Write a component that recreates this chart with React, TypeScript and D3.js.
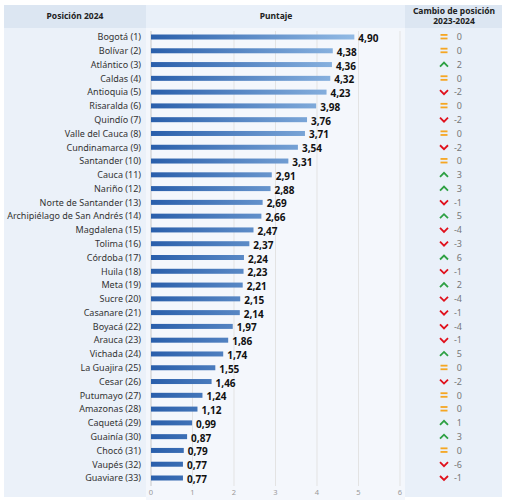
import React from 'react';
import * as d3 from 'd3';

const departments = [
  'Bogotá', 'Bolívar', 'Atlántico', 'Caldas', 'Antioquia', 'Risaralda', 'Quindío',
  'Valle del Cauca', 'Cundinamarca', 'Santander', 'Cauca', 'Nariño', 'Norte de Santander',
  'Archipiélago de San Andrés', 'Magdalena', 'Tolima', 'Córdoba', 'Huila', 'Meta', 'Sucre',
  'Casanare', 'Boyacá', 'Arauca', 'Vichada', 'La Guajira', 'Cesar', 'Putumayo', 'Amazonas',
  'Caquetá', 'Guainía', 'Chocó', 'Vaupés', 'Guaviare',
];

const scores = [
  4.90, 4.38, 4.36, 4.32, 4.23, 3.98, 3.76, 3.71, 3.54, 3.31, 2.91, 2.88, 2.69, 2.66, 2.47,
  2.37, 2.24, 2.23, 2.21, 2.15, 2.14, 1.97, 1.86, 1.74, 1.55, 1.46, 1.24, 1.12, 0.99, 0.87,
  0.79, 0.77, 0.77,
];

const changes = [
  0, 0, 2, 0, -2, 0, -2, 0, -2, 0, 3, 3, -1, 5, -4, -3, 6, -1, 2, -4, -1, -4, -1, 5, 0, -2,
  0, 0, 1, 3, 0, -6, -1,
];

const xTicks = [0, 1, 2, 3, 4, 5, 6];

const FONT = '"Noto Sans", sans-serif';
const fmt = (v: number) => v.toFixed(2).replace('.', ',');

export default function App() {
  const width = 506;
  const height = 500;
  const labels = departments.map((d, i) => `${d} (${i + 1})`);

  const x = d3.scaleLinear().domain([0, 6]).range([151, 400]);
  const y = d3.scalePoint<string>().domain(labels).range([37, 478]);
  const barH = 5;

  const icon = (c: number, cx: number, cy: number) => {
    if (c === 0) {
      return (
        <g>
          <rect x={cx - 3.5} y={cy - 3} width={7} height={1.8} fill="#f5a623" />
          <rect x={cx - 3.5} y={cy + 0.6} width={7} height={1.8} fill="#f5a623" />
        </g>
      );
    }
    const up = c > 0;
    const d = up
      ? d3.line()([[cx - 4, cy + 2], [cx, cy - 2], [cx + 4, cy + 2]])
      : d3.line()([[cx - 4, cy - 2], [cx, cy + 2], [cx + 4, cy - 2]]);
    return (
      <path d={d ?? ''} fill="none" stroke={up ? '#2ea043' : '#e0101c'} strokeWidth={1.8} />
    );
  };

  return (
    <svg width={width} height={height} style={{ position: 'absolute', left: 0, top: 0 }}>
      <defs>
        <linearGradient id="barGrad" gradientUnits="userSpaceOnUse" x1={151} x2={356} y1={0} y2={0}>
          <stop offset="0%" stopColor="#2a5fab" />
          <stop offset="100%" stopColor="#93bbe5" />
        </linearGradient>
      </defs>
      <rect width={width} height={height} fill="#ffffff" />
      {/* column backgrounds */}
      <rect x={4} y={5} width={142} height={23} fill="#dce6f2" />
      <rect x={4} y={28} width={142} height={469} fill="#ebf1f9" />
      <rect x={146} y={5} width={259} height={23} fill="#e9f0f9" />
      <rect x={146} y={28} width={259} height={472} fill="#f4f7fc" />
      <rect x={405} y={5} width={97} height={23} fill="#dce6f2" />
      <rect x={405} y={28} width={97} height={469} fill="#e9f0f9" />

      {/* headers */}
      <g fontFamily={FONT} fontWeight="bold" fontSize={8.5} fill="#222" textAnchor="middle">
        <text x={75} y={19}>Posición 2024</text>
        <text x={276} y={19}>Puntaje</text>
        <text x={454} y={14}>Cambio de posición</text>
        <text x={454} y={24}>2023-2024</text>
      </g>

      {/* grid */}
      {xTicks.map((t) => (
        <g key={t}>
          <line
            x1={x(t)} x2={x(t)} y1={31} y2={486}
            stroke={t === 0 ? '#c8c8c8' : '#e3e3e3'} strokeWidth={1}
          />
          <text
            x={x(t)} y={495} textAnchor="middle" fontFamily={FONT} fontSize={7.5} fill="#9a9a9a"
          >
            {t}
          </text>
        </g>
      ))}

      {labels.map((lab, i) => {
        const cy = y(lab) ?? 0;
        const c = changes[i];
        return (
          <g key={lab}>
            <text
              x={141} y={cy + 3.3} textAnchor="end" fontFamily={FONT} fontSize={9} fill="#333"
            >
              {lab}
            </text>
            <rect
              x={x(0)} y={cy - barH / 2} width={x(scores[i]) - x(0)} height={barH}
              fill="url(#barGrad)"
            />
            <text
              x={x(scores[i]) + 4} y={cy + 5} fontFamily={FONT} fontWeight="bold" fontSize={10}
              fill="#111"
            >
              {fmt(scores[i])}
            </text>
            {icon(c, 444, cy)}
            <text
              x={462} y={cy + 3.3} textAnchor="end" fontFamily={FONT} fontSize={9} fill="#777"
            >
              {c}
            </text>
          </g>
        );
      })}
    </svg>
  );
}
